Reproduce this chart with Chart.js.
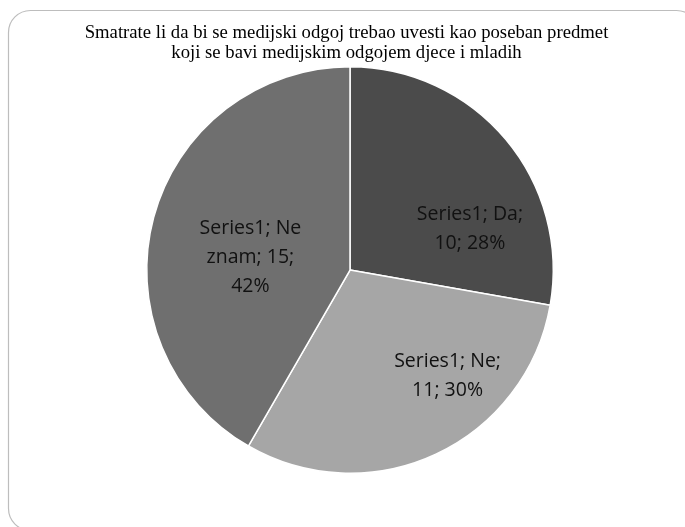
<!DOCTYPE html>
<html>
<head>
<meta charset="utf-8">
<script src="https://cdn.jsdelivr.net/npm/chart.js@4"></script>
<style>
  html, body { margin: 0; padding: 0; background: #fff; }
  #wrap { width: 685px; height: 527px; position: relative; }
</style>
</head>
<body>
<div id="wrap"><canvas id="pie" width="685" height="527"></canvas></div>
<script>
const seriesName = 'Series1';
const categories = ['Da', 'Ne', 'Ne znam'];
const values = [10, 11, 15];
const percents = ['28%', '30%', '42%'];
const titleLines = [
    'Smatrate li da bi se medijski odgoj trebao uvesti kao poseban predmet',
    'koji se bavi medijskim odgojem djece i mladih'
];
const sliceColors = ['#4b4b4b', '#a6a6a6', '#6f6f6f'];

// label lines as Excel wraps them
const labelLines = [
    [`${seriesName}; ${categories[0]};`, `${values[0]}; ${percents[0]}`],
    [`${seriesName}; ${categories[1]};`, `${values[1]}; ${percents[1]}`],
    [`${seriesName}; Ne`, `znam; ${values[2]};`, percents[2]]
];
// label centre offsets, as fractions of the radius (best-fit placement)
const labelOffsets = [[0.59, -0.20], [0.48, 0.52], [-0.49, -0.06]];

// frame + title
const framePlugin = {
    id: 'frame',
    beforeDraw(chart) {
        const c = chart.ctx;
        c.save();
        c.strokeStyle = '#bdbdbd';
        c.lineWidth = 1.2;
        c.beginPath();
        c.roundRect(8.5, 10.5, 690, 520, 22);
        c.stroke();
        c.fillStyle = '#000';
        c.font = '18.7px "Liberation Serif", "Times New Roman", serif';
        c.textAlign = 'center';
        c.textBaseline = 'middle';
        titleLines.forEach((t, i) => c.fillText(t, 346.5, 33 + i * 20));
        c.restore();
    }
};

// data labels inside slices
const labelPlugin = {
    id: 'sliceLabels',
    afterDatasetsDraw(chart) {
        const c = chart.ctx;
        const arcs = chart.getDatasetMeta(0).data;
        c.save();
        c.fillStyle = '#111';
        c.font = '19.5px "Open Sans", sans-serif';
        c.textAlign = 'center';
        c.textBaseline = 'middle';
        arcs.forEach((arc, i) => {
            const r = arc.outerRadius;
            const cx = arc.x + labelOffsets[i][0] * r;
            const cy = arc.y + labelOffsets[i][1] * r;
            const lines = labelLines[i];
            const lh = 29;
            lines.forEach((ln, j) => {
                c.fillText(ln, cx, cy + (j - (lines.length - 1) / 2) * lh);
            });
        });
        c.restore();
    }
};

new Chart(document.getElementById('pie'), {
    type: 'pie',
    data: {
        labels: categories,
        datasets: [{
            data: values,
            backgroundColor: sliceColors,
            borderColor: '#ffffff',
            borderWidth: 1.5
        }]
    },
    options: {
        responsive: false,
        animation: false,
        layout: { padding: { left: 146, right: 131, top: 66, bottom: 53 } },
        plugins: {
            legend: { display: false },
            tooltip: { enabled: false }
        }
    },
    plugins: [framePlugin, labelPlugin]
});
</script>
</body>
</html>
